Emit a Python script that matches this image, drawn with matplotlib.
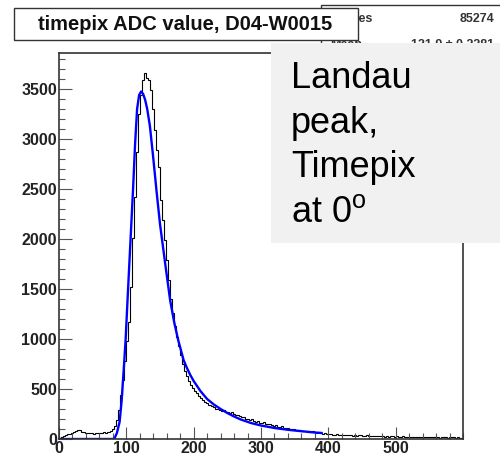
import numpy as np
import matplotlib
matplotlib.use("Agg")
import matplotlib.pyplot as plt
from matplotlib.patches import Rectangle
from matplotlib.ticker import MultipleLocator

plt.rcParams['font.family'] = ['Liberation Sans', 'DejaVu Sans']
plt.rcParams['mathtext.default'] = 'regular'

# histogram: 200 bins of width 3 over 0..600 (counts per bin)
BIN_EDGES = np.arange(0, 603, 3)
COUNTS = [
    15, 22, 30, 42, 50, 55, 58, 66, 80, 92,
    86, 74, 66, 60, 63, 57, 61, 55, 59, 62,
    60, 57, 66, 63, 70, 82, 96, 135, 190, 290,
    440, 590, 780, 980, 1170, 1520, 2010, 2420, 2870, 3250,
    3440, 3590, 3665, 3610, 3590, 3490, 3300, 3090, 2890, 2720,
    2390, 2190, 1990, 1790, 1590, 1400, 1260, 1130, 1020, 930,
    840, 750, 680, 630, 580, 540, 510, 480, 460, 430,
    410, 390, 370, 360, 340, 330, 320, 305, 300, 290,
    285, 290, 275, 270, 262, 268, 250, 240, 245, 228,
    220, 225, 205, 200, 192, 198, 180, 175, 182, 165,
    160, 166, 150, 148, 155, 140, 132, 138, 125, 120,
    126, 115, 110, 112, 102, 98, 104, 92, 88, 94,
    82, 80, 85, 74, 70, 76, 66, 62, 68, 58,
    55, 60, 50, 48, 52, 45, 42, 48, 40, 44,
    38, 42, 36, 40, 44, 35, 38, 33, 40, 36,
    30, 34, 38, 30, 28, 35, 30, 26, 32, 28,
    33, 25, 29, 24, 30, 26, 22, 28, 24, 20,
    26, 22, 25, 19, 24, 21, 18, 23, 20, 25,
    17, 21, 19, 23, 16, 20, 18, 22, 15, 19,
    17, 21, 14, 18, 16, 20, 13, 17, 15, 12,
]

# Landau fit curve
FIT_X = [0, 82, 86, 90, 93, 96, 99, 102, 106, 110, 113, 116, 119, 122, 125,
         128, 131, 135, 140, 145, 150, 157, 165, 171, 177, 185, 190, 195, 200,
         210, 220, 230, 240, 250, 260, 270, 285, 300, 320, 340, 360, 380, 390]
FIT_Y = [0, 0, 60, 170, 380, 680, 1000, 1420, 1960, 2500, 2950, 3300, 3440,
         3475, 3450, 3390, 3300, 3130, 2810, 2470, 2150, 1790, 1390, 1170, 990,
         790, 710, 640, 580, 480, 400, 345, 300, 260, 225, 195, 160, 135, 110,
         92, 78, 65, 60]

TITLE = "timepix ADC value, D04-W0015"
NOTE_LINES = ["Landau", "peak,", "Timepix", "at 0$^{o}$"]

W, H = 500, 458
fig = plt.figure(figsize=(W / 100, H / 100), dpi=100)
fig.patch.set_facecolor('white')


def fx(px):
    return px / W


def fy(py):
    return 1 - py / H


ax = fig.add_axes([fx(59), fy(439), (463 - 59) / W, (439 - 53) / H])
ax.stairs(COUNTS, BIN_EDGES, color='black', linewidth=0.8, baseline=None)
ax.plot(FIT_X, FIT_Y, color='#0000ff', linewidth=1.7)

ax.set_xlim(0, 600)
ax.set_ylim(0, 3860)
ax.xaxis.set_major_locator(MultipleLocator(100))
ax.xaxis.set_minor_locator(MultipleLocator(20))
ax.yaxis.set_major_locator(MultipleLocator(500))
ax.yaxis.set_minor_locator(MultipleLocator(100))
ax.set_xticks(np.arange(0, 600, 100))
ax.set_yticks(np.arange(0, 3600, 500))
ax.tick_params(which='both', direction='in', color='#555555', width=0.8,
               top=False, right=False)
ax.tick_params(which='major', length=9, labelsize=11.5, pad=1.5)
ax.tick_params(which='minor', length=4.5)
for lab in ax.get_xticklabels() + ax.get_yticklabels():
    lab.set_fontweight('bold')
    lab.set_color('#222222')
for sp in ax.spines.values():
    sp.set_linewidth(1.2)
    sp.set_color('#333333')

# stats box (mostly hidden behind the title and the note)
fig.add_artist(Rectangle((fx(321), fy(60)), fx(190), 55 / H, transform=fig.transFigure,
                         facecolor='white', edgecolor='#333333', linewidth=1.0, zorder=3))
fig.text(fx(330), fy(19), "Entries", fontsize=9, fontweight='bold', color='#333333',
         va='center', ha='left', zorder=4)
fig.text(fx(494), fy(19), "85274", fontsize=9, fontweight='bold', color='#333333',
         va='center', ha='right', zorder=4)
fig.text(fx(330), fy(45), "Mean", fontsize=9, fontweight='bold', color='#333333',
         va='center', ha='left', zorder=4)
fig.text(fx(494), fy(45), "121.9 \u00b1 0.2281", fontsize=9, fontweight='bold',
         color='#333333', va='center', ha='right', zorder=4)

# title box
fig.add_artist(Rectangle((fx(14), fy(40)), fx(344), 32 / H, transform=fig.transFigure,
                         facecolor='white', edgecolor='#333333', linewidth=1.0, zorder=5))
fig.text(fx(185), fy(24), TITLE, fontsize=14.5, fontweight='bold', color='#111111',
         ha='center', va='center', zorder=6)

# grey note box on top
fig.add_artist(Rectangle((fx(271), fy(243)), fx(229), 200 / H, transform=fig.transFigure,
                         facecolor='#f1f1f1', edgecolor='none', zorder=7))
for i, line in enumerate(NOTE_LINES):
    fig.text(fx(291), fy(88 + 44.7 * i), line, fontsize=26, color='black',
             ha='left', va='baseline', zorder=8)

fig.savefig('out.png', dpi=100)
